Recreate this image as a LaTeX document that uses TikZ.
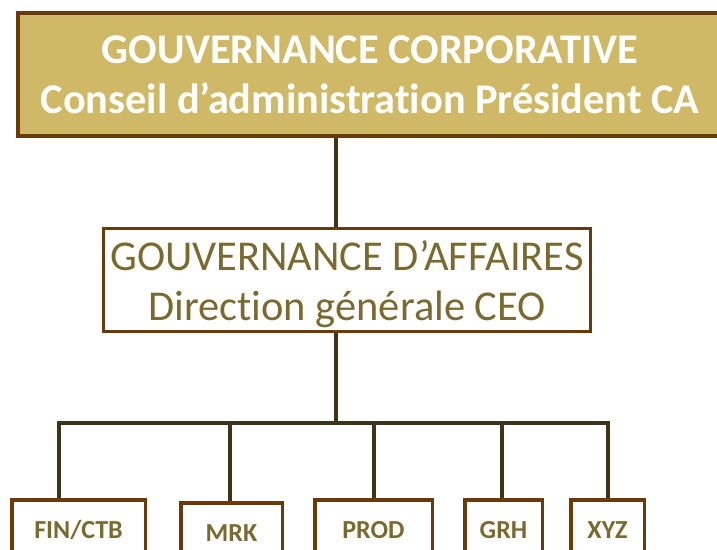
\documentclass[tikz,border=0pt]{standalone}
\usepackage{fontspec}
\setmainfont{Carlito}[Ligatures=NoCommon]
\definecolor{boardFill}{HTML}{CFB967}
\definecolor{boxBorder}{HTML}{6B3A0B}
\definecolor{linkLine}{HTML}{3F3419}
\definecolor{textOlive}{HTML}{7A6A30}
\tikzstyle{govBox} = [draw=boxBorder, rectangle, line width=4pt, fill=boardFill,
   text=white, font=\bfseries\fontsize{42.3}{50}\selectfont, align=center,
   inner sep=0, text height=80pt, text depth=3pt]
\tikzstyle{dirBox} = [draw=boxBorder, rectangle, line width=3pt,
   text=textOlive, font=\fontsize{42.5}{50}\selectfont, align=center,
   inner sep=0, text height=85pt, text depth=5pt]
\tikzstyle{deptBox} = [draw=boxBorder, rectangle, line width=3.5pt,
   text=textOlive, font=\bfseries\fontsize{26}{30}\selectfont,
   inner sep=0, minimum height=60pt, text height=17pt, text depth=0pt]
\tikzstyle{orgLine} = [line width=4pt, draw=linkLine]

\begin{document}
\begin{tikzpicture}[x=1pt, y=1pt]
  \useasboundingbox (0,0) rectangle (717,-549);
  \node[govBox, minimum width=704pt, minimum height=123pt] (board) at (370,-74.5)
    {GOUVERNANCE CORPORATIVE\\Conseil d’administration Président CA};
  \node[dirBox, minimum width=487pt, minimum height=103pt] (dir) at (347,-280)
    {GOUVERNANCE D’AFFAIRES\\Direction générale CEO};
  \node[deptBox, minimum width=133.5pt] (fin) at (78.5,-529.75) {FIN/CTB};
  \node[deptBox, minimum width=101.5pt] (mrk) at (231.5,-532.75) {MRK};
  \node[deptBox, minimum width=117.5pt] (prod) at (373.5,-529.75) {PROD};
  \node[deptBox, minimum width=77.5pt] (grh) at (503.5,-529.75) {GRH};
  \node[deptBox, minimum width=73.5pt] (xyz) at (607.5,-529.75) {XYZ};
  % spine and bar
  \coordinate (spine) at (336,-423);
  \coordinate (barL) at (57,-423);
  \coordinate (barR) at (610,-423);
  \draw[orgLine] (board.south -| spine) -- (dir.north -| spine);
  \draw[orgLine] (dir.south -| spine) -- (spine);
  \draw[orgLine] (barL) -- (barR);
  % drops to the departments
  \foreach \x/\n in {59/fin, 230/mrk, 374/prod, 502/grh, 608/xyz} {
    \coordinate (d-\n) at (\x,-423);
    \draw[orgLine] (d-\n) -- (d-\n |- \n.north);
  }
\end{tikzpicture}
\end{document}
